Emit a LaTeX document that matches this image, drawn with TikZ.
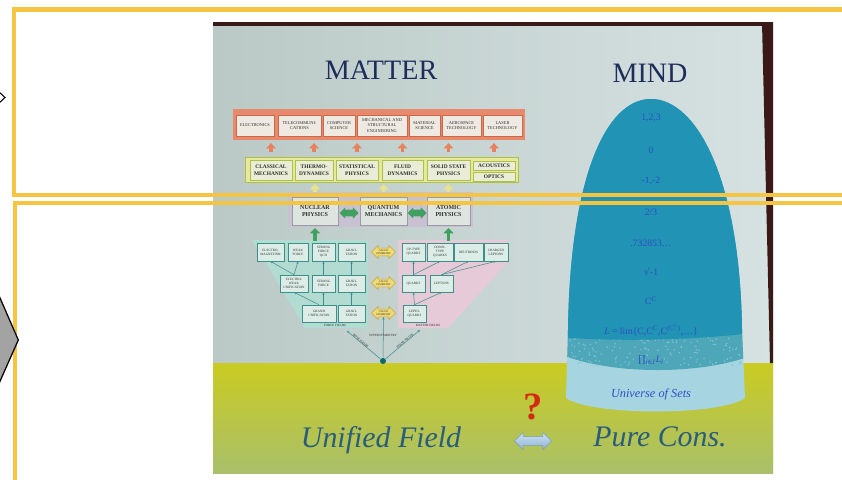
\documentclass[tikz,border=0pt]{standalone}
\usepackage{fontspec}
\setmainfont{Liberation Serif}
\newfontfamily\symf{DejaVu Serif}
\usetikzlibrary{arrows.meta,shapes.arrows,positioning,calc}

\definecolor{hiyellow}{HTML}{F5C542}
\definecolor{chevgray}{HTML}{A3A3A3}
\definecolor{slideleft}{HTML}{BAC9C6}
\definecolor{slideright}{HTML}{D6E2E2}
\definecolor{frame}{HTML}{3A1A16}
\definecolor{titleblue}{HTML}{1F2D5C}
\definecolor{boxtext}{HTML}{2E2E2E}
\definecolor{techband}{HTML}{E8896C}
\definecolor{techline}{HTML}{C8684C}
\definecolor{techfill}{HTML}{EEEAE2}
\definecolor{orangeup}{HTML}{E8825E}
\definecolor{physband}{HTML}{E6E89A}
\definecolor{physline}{HTML}{AFC04A}
\definecolor{physfill}{HTML}{E9EDD6}
\definecolor{yellowup}{HTML}{E9E38A}
\definecolor{qband}{HTML}{C8C1D2}
\definecolor{qfill}{HTML}{DEE4E0}
\definecolor{qline}{HTML}{9A9AA2}
\definecolor{arrgreen}{HTML}{3FA060}
\definecolor{forcebg}{HTML}{B2DBD2}
\definecolor{matterbg}{HTML}{E6CAD8}
\definecolor{fieldline}{HTML}{3E8F8A}
\definecolor{fieldfill}{HTML}{DCEDE8}
\definecolor{symyellow}{HTML}{F0DA74}
\definecolor{symedge}{HTML}{C8A840}
\definecolor{rootteal}{HTML}{0E6A68}
\definecolor{domedark}{HTML}{2193B4}
\definecolor{domemid}{HTML}{4DA7B8}
\definecolor{domelight}{HTML}{A6D5E1}
\definecolor{numblue}{HTML}{2E4FC4}
\definecolor{fieldyellow}{HTML}{CACB22}
\definecolor{fieldgreen}{HTML}{A9C06A}
\definecolor{scriptblue}{HTML}{2A5C7C}
\definecolor{qred}{HTML}{D42A12}
\definecolor{linkblue}{HTML}{9CC6EA}

\begin{document}
\begin{tikzpicture}[x=0.02cm, y=-0.02cm,
    wd/.style={minimum width=#1*0.02cm},
    ht/.style={minimum height=#1*0.02cm},
    techbox/.style={draw=techline, fill=techfill, line width=0.3pt, inner sep=0pt, ht=21,
        align=center, text=boxtext, font=\fontsize{2.5}{2.9}\selectfont},
    physbox/.style={draw=physline, fill=physfill, line width=0.4pt, inner sep=0pt, ht=20,
        align=center, text=boxtext, font=\fontsize{3.1}{3.7}\selectfont\bfseries},
    qbox/.style={draw=qline, fill=qfill, line width=0.4pt, inner sep=0pt, ht=28,
        align=center, text=boxtext, font=\fontsize{3.4}{4}\selectfont\bfseries},
    fieldbox/.style={draw=fieldline, fill=fieldfill, line width=0.35pt, inner sep=0pt, ht=17,
        align=center, text=boxtext, font=\fontsize{1.9}{2.2}\selectfont},
    symarrow/.style={double arrow, fill=symyellow, draw=symedge, line width=0.3pt, inner sep=0pt,
        minimum height=24*0.02cm, minimum width=13*0.02cm, double arrow head extend=1pt,
        align=center, text=boxtext, font=\fontsize{1.5}{1.7}\selectfont},
    greenarrow/.style={double arrow, fill=arrgreen, inner xsep=0pt, inner ysep=1.7pt,
        minimum height=19*0.02cm, double arrow head extend=1.3pt},
    upblock/.style={line width=2.2pt, -{Triangle[length=3pt,width=5.5pt]}},
    treearrow/.style={draw=fieldline, line width=0.3pt, -{Stealth[length=1.4pt,width=1.2pt]}},
    fieldlabel/.style={font=\fontsize{1.8}{2}\selectfont, text=boxtext, inner sep=0pt},
    numtxt/.style={text=numblue, font=\fontsize{5.5}{6}\selectfont, inner sep=0pt},
    markbox/.style={draw=hiyellow, line width=2.3pt},
]
\clip (0,0) rectangle (842,480);
\fill[white] (0,0) rectangle (842,480);

% the photographed slide
\shade[left color=slideleft, right color=slideright] (213,23) rectangle (773,473);
\shade[top color=fieldyellow, bottom color=fieldgreen] (213,363) rectangle (773,473);
\fill[frame] (213,22) rectangle (773,26);
\fill[frame] (762,22) -- (773,22) -- (773,363) -- (770,363) -- cycle;

\node[text=titleblue, font=\fontsize{16}{18}\selectfont] (matter) at (381,70) {MATTER};
\node[text=titleblue, font=\fontsize{16}{18}\selectfont] (mind) at (650,73) {MIND};

% technologies
\node[fill=techband, wd=292, ht=31, inner sep=0pt] (techrow) at (379,124.5) {};
\node[techbox, wd=38] (elec) at (255,125.5) {ELECTRONICS};
\node[techbox, wd=43] (tele) at (299.5,125.5) {TELECOMMUNI-\\CATIONS};
\node[techbox, wd=32] (comp) at (339,125.5) {COMPUTER\\SCIENCE};
\node[techbox, wd=50] (mech) at (382,125.5) {MECHANICAL AND\\STRUCTURAL\\ENGINEERING};
\node[techbox, wd=31] (matl) at (424.5,125.5) {MATERIAL\\SCIENCE};
\node[techbox, wd=39] (aero) at (461.5,125.5) {AEROSPACE\\TECHNOLOGY};
\node[techbox, wd=39] (laser) at (502.5,125.5) {LASER\\TECHNOLOGY};

% classical physics
\node[fill=physband, draw=physline, line width=0.3pt, wd=273, ht=25, inner sep=0pt] (physrow) at (381.5,169.5) {};
\node[physbox, wd=42] (classical) at (271,170) {CLASSICAL\\MECHANICS};
\node[physbox, wd=38] (thermo) at (314,170) {THERMO-\\DYNAMICS};
\node[physbox, wd=42] (stat) at (357,170) {STATISTICAL\\PHYSICS};
\node[physbox, wd=41] (fluid) at (402.5,170) {FLUID\\DYNAMICS};
\node[physbox, wd=43] (solid) at (448.5,170) {SOLID STATE\\PHYSICS};
\node[physbox, wd=42, ht=9] (acou) at (494,165.5) {ACOUSTICS};
\node[physbox, wd=42, ht=9] (optics) at (494,176.5) {OPTICS};

\foreach \b in {classical,thermo,stat,fluid,solid,acou}
    \draw[upblock, orangeup, shorten <=2.8pt, shorten >=1.6pt] (\b.north |- physrow.north) -- (\b.north |- techrow.south);

% quantum row
\node[fill=qband, wd=185, ht=35, inner sep=0pt] (qrow) at (380.5,209.5) {};
\node[qbox, wd=46] (nuclear) at (315,211) {NUCLEAR\\PHYSICS};
\node[qbox, wd=47] (quantum) at (383.5,211) {QUANTUM\\MECHANICS};
\node[qbox, wd=43] (atomic) at (448.5,211) {ATOMIC\\PHYSICS};
\node[greenarrow] (nq) at ($(nuclear.east)!0.5!(quantum.west)+(0,2)$) {};
\node[greenarrow] (qa) at ($(quantum.east)!0.5!(atomic.west)+(0,2)$) {};

\foreach \b in {nuclear,quantum,atomic}
    \draw[upblock, yellowup, shorten >=1pt] (\b.north |- qrow.north) -- (\b.north |- physrow.south);

% force fields and matter fields
\fill[forcebg] (252,240) -- (368,240) -- (368,328) -- (305,328) -- cycle;
\fill[matterbg] (398,240) -- (508,240) -- (508,262) -- (448,328) -- (398,328) -- cycle;

\node[fieldbox, wd=27, ht=18] (em) at (270.5,252) {ELECTRO-\\MAGNETISM};
\node[fieldbox, wd=20, ht=18] (weak) at (298,252) {WEAK\\FORCE};
\node[fieldbox, wd=23, ht=18] (strongA) at (323.5,252) {STRONG\\FORCE\\QCD};
\node[fieldbox, wd=27, ht=18] (gravA) at (351.5,252) {GRAVI-\\TATION};
\node[fieldbox, wd=28] (ew) at (294,283.5) {ELECTRO-\\WEAK\\UNIFICATION};
\node[fieldbox, wd=23] (strongB) at (323.5,283.5) {STRONG\\FORCE};
\node[fieldbox, wd=27] (gravB) at (351.5,283.5) {GRAVI-\\TATION};
\node[fieldbox, wd=34] (gut) at (319,313.5) {GRAND\\UNIFICATION};
\node[fieldbox, wd=27] (gravC) at (351.5,313.5) {GRAVI-\\TATION};

\node[fieldbox, wd=23, ht=18] (up) at (413.5,252) {UP-TYPE\\QUARKS};
\node[fieldbox, wd=26, ht=18] (down) at (440,252) {DOWN-\\TYPE\\QUARKS};
\node[fieldbox, wd=29, ht=18] (neu) at (468.5,252) {NEUTRINOS};
\node[fieldbox, wd=24, ht=18] (cl) at (496,252) {CHARGED\\LEPTONS};
\node[fieldbox, wd=23] (quarks) at (413.5,283.5) {QUARKS};
\node[fieldbox, wd=23] (leptons) at (441.5,283.5) {LEPTONS};
\node[fieldbox, wd=23] (lq) at (414.5,313.5) {LEPTO-\\QUARKS};

\node[symarrow] (symA) at (383.5,252) {GAUGE\\SYMMETRY};
\node[symarrow] (symB) at (383.5,283) {GAUGE\\SYMMETRY};
\node[symarrow] (symC) at (383.5,313) {GAUGE\\SYMMETRY};

\draw[upblock, arrgreen, shorten <=1pt, shorten >=1.5pt] (nuclear.south |- em.north) -- (nuclear.south);
\draw[upblock, arrgreen, shorten <=1pt, shorten >=1.5pt] (atomic.south |- down.north) -- (atomic.south);

\draw[treearrow] (gut.north) -- (ew.south);
\draw[treearrow] (gut.north -| strongB) -- (strongB.south);
\draw[treearrow] (gravC.north) -- (gravB.south);
\draw[treearrow] (ew.north) -- (em.south);
\draw[treearrow] (ew.north) -- (weak.south);
\draw[treearrow] (strongB.north) -- (strongA.south);
\draw[treearrow] (gravB.north) -- (gravA.south);
\draw[treearrow] (lq.north) -- (quarks.south);
\draw[treearrow] (lq.north) -- (leptons.south);
\draw[treearrow] (quarks.north) -- (up.south);
\draw[treearrow] (quarks.north) -- (down.south);
\draw[treearrow] (leptons.north) -- (neu.south);
\draw[treearrow] (leptons.north) -- (cl.south);

\node[fieldlabel] (forcelbl) at (335,325) {FORCE FIELDS};
\node[fieldlabel] (matterlbl) at (428,325) {MATTER FIELDS};

\node[circle, fill=rootteal, inner sep=0pt, minimum size=6*0.02cm] (root) at (383,361) {};
\coordinate (bosetip) at (347,331);
\coordinate (fermitip) at (420,330);
\draw[treearrow] (root) -- (bosetip);
\draw[treearrow] (root) -- (symC.south);
\draw[treearrow] (root) -- (fermitip);
\node[fieldlabel] (susy) at (383,335) {SUPERSYMMETRY};
\node[fieldlabel, rotate=-40] (bose) at (361,341) {BOSE FIELDS};
\node[fieldlabel, rotate=40] (fermi) at (405,341) {FERMI FIELDS};

% the dome of mind
\begin{scope}
    \clip (566,398) -- (568,330) .. controls (570,180) and (605,99) .. (651,99)
        .. controls (697,99) and (740,180) .. (742,330) -- (745,398)
        .. controls (720,416) and (592,416) .. (566,398) -- cycle;
    \fill[domelight] (560,90) rectangle (750,420);
    \fill[domemid] (560,90) -- (750,90) -- (750,356) .. controls (700,375) and (610,375) .. (560,354) -- cycle;
    \pgfmathsetseed{7}
    \foreach \i in {1,...,160}
        \fill[domelight!60!domemid] ({565+rnd*182},{336+rnd*30}) circle (0.8);
    \fill[domedark] (560,90) -- (750,90) -- (750,333) .. controls (700,340) and (610,342) .. (560,337) -- cycle;
\end{scope}

\node[numtxt] (n1) at (651,118) {1,2,3};
\node[numtxt] (n2) at (651,150) {0};
\node[numtxt] (n3) at (651,181) {-1,-2};
\node[numtxt] (n4) at (651,212) {2/3};
\node[numtxt] (n5) at (651,243) {.732853\ldots};
\node[numtxt] (n6) at (651,272) {{\symf √}-1};
\node[numtxt] (n7) at (651,301) {C\textsuperscript{C}};
\node[numtxt] (n8) at (651,330) {\textit{L} = lim\{C,C\textsuperscript{C},C\textsuperscript{(C\textsuperscript{C})},\ldots\}};
\node[numtxt] (n9) at (651,360) {{\symf ∏}\textsubscript{\itshape i{\symf ∈}I}\textit{L}\textsubscript{\itshape i}};
\node[numtxt, font=\fontsize{7}{8}\selectfont\itshape] (n10) at (651,394) {Universe of Sets};

% bottom line
\node[text=scriptblue, font=\fontsize{17}{20}\selectfont\itshape] (unified) at (381,440) {Unified Field};
\node[text=scriptblue, font=\fontsize{17}{20}\selectfont\itshape] (purecons) at (660,437) {Pure Cons.};
\node[text=qred, font=\fontsize{22}{24}\selectfont\bfseries] (question) at (533,407) {?};
\node[double arrow, top color=linkblue!50, bottom color=linkblue!90!black, draw=linkblue!80!black,
    line width=0.3pt, inner xsep=0pt, inner ysep=2.4pt, minimum height=37*0.02cm,
    double arrow head extend=2.4pt] (link) at (533,441) {};

% overlay marks
\draw[markbox] (850,9.5) -- (13.8,9.5) -- (13.8,194.7) -- (850,194.7);
\draw[markbox] (850,203) -- (15.3,203) -- (15.3,490);
\draw[fill=white, line width=0.6pt] (-3,90) -- (5,97.5) -- (-3,105);
\draw[fill=chevgray, line width=0.7pt] (-3,291) -- (18.3,340) -- (-3,388) -- cycle;
\end{tikzpicture}
\end{document}
